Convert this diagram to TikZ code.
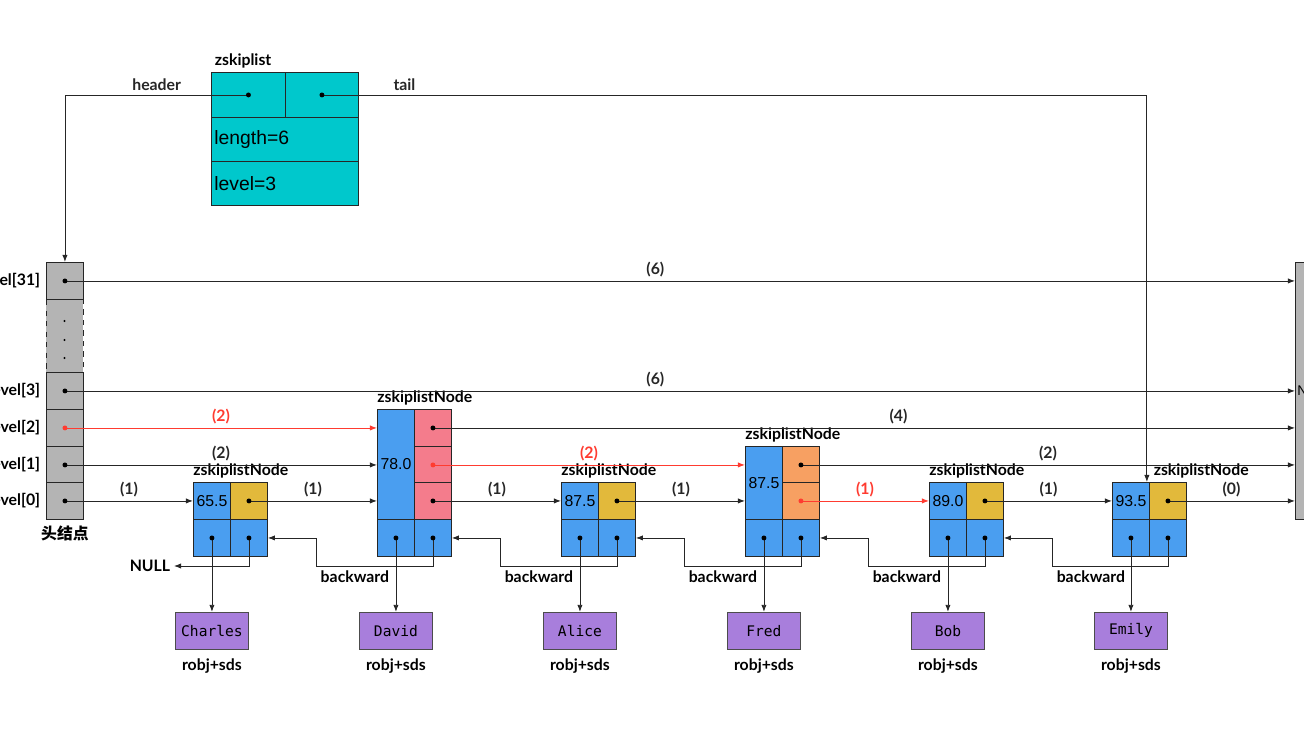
\documentclass[tikz,border=0pt]{standalone}
\usepackage{fontspec}
\setmainfont{Lato}
\setsansfont{Liberation Sans}
\setmonofont{DejaVu Sans Mono}
\newfontfamily\cjkfont{Noto Sans CJK SC}
\usetikzlibrary{arrows.meta, positioning}

\definecolor{zteal}{RGB}{0,200,204}
\definecolor{zblue}{RGB}{74,158,240}
\definecolor{zyellow}{RGB}{226,185,59}
\definecolor{zpink}{RGB}{244,124,140}
\definecolor{zorange}{RGB}{247,160,98}
\definecolor{zpurple}{RGB}{168,126,220}
\definecolor{zgray}{RGB}{180,180,180}
\definecolor{zred}{RGB}{255,59,48}

\newcommand{\pxu}{0.02cm}
\newcommand{\pdot}[2][black]{\fill[#1] (#2) circle (1.4pt);}

\tikzset{
  cell/.style={draw=black!85, line width=0.5pt, inner sep=0pt, anchor=north west,
    minimum width=37*\pxu, minimum height=37*\pxu, font=\sffamily\fontsize{9}{10}\selectfont},
  hcell/.style={cell, fill=zgray},
  scell/.style={cell, fill=zblue},
  objbox/.style={draw=black!70, line width=0.5pt, fill=zpurple, minimum width=73*\pxu,
    minimum height=37*\pxu, inner sep=0pt, font=\ttfamily\fontsize{8.3}{10}\selectfont},
  lbl/.style={font=\bfseries\fontsize{9}{10}\selectfont, inner sep=2pt},
  ptr/.style={-{Latex[length=4pt,width=3pt]}, line width=0.5pt, black!85},
  redptr/.style={ptr, zred},
}

\begin{document}
\begin{tikzpicture}[x=0.02cm, y=-0.02cm]
  \useasboundingbox (0,0) rectangle (1304,734);

  % zskiplist struct
  \node (zh) [cell, fill=zteal, minimum width=74*\pxu, minimum height=45*\pxu] at (211,72) {};
  \node (zt) [cell, fill=zteal, minimum width=73*\pxu, minimum height=45*\pxu] at (285,72) {};
  \node (zlen) [cell, fill=zteal, minimum height=44*\pxu, text width=2.82cm, inner xsep=0.06cm,
    align=left, font=\sffamily\fontsize{11}{12}\selectfont] at (211,117) {length=6};
  \node (zlvl) [cell, fill=zteal, minimum height=44*\pxu, text width=2.82cm, inner xsep=0.06cm,
    align=left, font=\sffamily\fontsize{11}{12}\selectfont] at (211,161) {level=3};
  \node (zname) [lbl, anchor=south west] at (zh.north west) {zskiplist};

  % header node
  \node (hdots) [hcell, dashed, minimum height=73*\pxu] at (46,299) {};
  \node (h31) [hcell] at (46,262) {};
  \node (h3) [hcell] at (46,372) {};
  \node (h2) [hcell] at (46,409) {};
  \node (h1) [hcell] at (46,446) {};
  \node (h0) [hcell] at (46,482) {};
  \fill (64.5,321) circle (0.7pt) (64.5,340) circle (0.7pt) (64.5,358) circle (0.7pt);
  \node (lv31) [lbl, left=0.04cm of h31] {level[31]};
  \node (lv3) [lbl, left=0.04cm of h3] {level[3]};
  \node (lv2) [lbl, left=0.04cm of h2] {level[2]};
  \node (lv1) [lbl, left=0.04cm of h1] {level[1]};
  \node (lv0) [lbl, left=0.04cm of h0] {level[0]};
  \node (hname) [below=0.05cm of h0, inner sep=2pt, font=\cjkfont\bfseries\fontsize{9}{10}\selectfont] {头结点};

  % tail column
  \node (nullcol) [hcell, minimum width=40*\pxu, minimum height=257*\pxu,
    font=\sffamily\fontsize{8}{10}\selectfont] at (1295,262) {NULL};

  % node 65.5
  \node (n1s) [scell] at (193,482) {65.5};
  \node (n1l0) [cell, fill=zyellow] at (230,482) {};
  \node (n1b) [scell] at (193,519) {};
  \node (n1k) [scell] at (230,519) {};
  \node (n1name) [lbl, anchor=south west, inner xsep=0pt] at (n1s.north west) {zskiplistNode};

  % node 78.0
  \node (n2s) [scell, minimum height=110*\pxu] at (377,409) {78.0};
  \node (n2l2) [cell, fill=zpink] at (414,409) {};
  \node (n2l1) [cell, fill=zpink] at (414,446) {};
  \node (n2l0) [cell, fill=zpink] at (414,482) {};
  \node (n2b) [scell] at (377,519) {};
  \node (n2k) [scell] at (414,519) {};
  \node (n2name) [lbl, anchor=south west, inner xsep=0pt] at (n2s.north west) {zskiplistNode};

  % node 87.5 (Alice)
  \node (n3s) [scell] at (561,482) {87.5};
  \node (n3l0) [cell, fill=zyellow] at (598,482) {};
  \node (n3b) [scell] at (561,519) {};
  \node (n3k) [scell] at (598,519) {};
  \node (n3name) [lbl, anchor=south west, inner xsep=0pt] at (n3s.north west) {zskiplistNode};

  % node 87.5 (Fred)
  \node (n4s) [scell, minimum height=73*\pxu] at (745,446) {87.5};
  \node (n4l1) [cell, fill=zorange] at (782,446) {};
  \node (n4l0) [cell, fill=zorange] at (782,482) {};
  \node (n4b) [scell] at (745,519) {};
  \node (n4k) [scell] at (782,519) {};
  \node (n4name) [lbl, anchor=south west, inner xsep=0pt] at (n4s.north west) {zskiplistNode};

  % node 89.0
  \node (n5s) [scell] at (929,482) {89.0};
  \node (n5l0) [cell, fill=zyellow] at (966,482) {};
  \node (n5b) [scell] at (929,519) {};
  \node (n5k) [scell] at (966,519) {};
  \node (n5name) [lbl, anchor=south west, inner xsep=0pt] at (n5s.north west) {zskiplistNode};

  % node 93.5
  \node (n6s) [scell] at (1112,482) {93.5};
  \node (n6l0) [cell, fill=zyellow] at (1149,482) {};
  \node (n6b) [scell] at (1112,519) {};
  \node (n6k) [scell] at (1149,519) {};
  \node (n6name) [lbl, anchor=south west, inner xsep=2pt] at (n6s.north east) {zskiplistNode};

  % objects
  \node (o1) [objbox, below=1.1cm of n1b] {Charles};
  \node (o2) [objbox, below=1.1cm of n2b] {David};
  \node (o3) [objbox, below=1.1cm of n3b] {Alice};
  \node (o4) [objbox, below=1.1cm of n4b] {Fred};
  \node (o5) [objbox, below=1.1cm of n5b] {Bob};
  \node (o6) [objbox, below=1.1cm of n6b] {Emily};
  \node (r1) [lbl, below=0.1cm of o1] {robj+sds};
  \node (r2) [lbl, below=0.1cm of o2] {robj+sds};
  \node (r3) [lbl, below=0.1cm of o3] {robj+sds};
  \node (r4) [lbl, below=0.1cm of o4] {robj+sds};
  \node (r5) [lbl, below=0.1cm of o5] {robj+sds};
  \node (r6) [lbl, below=0.1cm of o6] {robj+sds};

  % header and tail pointers
  \draw[ptr] (zh.center) -| (h31.north) node[lbl, above, pos=0.25] {header};
  \draw[ptr] (zt.center) -| ([xshift=-3*\pxu]n6s.north east) node[lbl, above, pos=0.05] {tail};
  \pdot{zh.center} \pdot{zt.center}

  % level pointers
  \draw[ptr] (h31.center) -- (h31 -| nullcol.west) node[lbl, above, pos=0.48] {(6)};
  \draw[ptr] (h3.center) -- (h3 -| nullcol.west) node[lbl, above, pos=0.48] {(6)};
  \draw[redptr] (h2.center) -- (h2 -| n2s.west) node[lbl, above, midway, zred] {(2)};
  \draw[ptr] (h1.center) -- (h1 -| n2s.west) node[lbl, above, midway] {(2)};
  \draw[ptr] (h0.center) -- (n1s.west) node[lbl, above, midway] {(1)};
  \draw[ptr] (n1l0.center) -- (n1l0 -| n2s.west) node[lbl, above, midway] {(1)};
  \draw[ptr] (n2l2.center) -- (n2l2 -| nullcol.west) node[lbl, above, pos=0.54] {(4)};
  \draw[redptr] (n2l1.center) -- (n2l1 -| n4s.west) node[lbl, above, midway, zred] {(2)};
  \draw[ptr] (n2l0.center) -- (n3s.west) node[lbl, above, midway] {(1)};
  \draw[ptr] (n3l0.center) -- (n3l0 -| n4s.west) node[lbl, above, midway] {(1)};
  \draw[ptr] (n4l1.center) -- (n4l1 -| nullcol.west) node[lbl, above, midway] {(2)};
  \draw[redptr] (n4l0.center) -- (n5s.west) node[lbl, above, midway, zred] {(1)};
  \draw[ptr] (n5l0.center) -- (n6s.west) node[lbl, above, midway] {(1)};
  \draw[ptr] (n6l0.center) -- (n6l0 -| nullcol.west) node[lbl, above, midway] {(0)};
  \pdot{h31.center} \pdot{h3.center} \pdot[zred]{h2.center} \pdot{h1.center} \pdot{h0.center}
  \pdot{n1l0.center} \pdot{n2l2.center} \pdot[zred]{n2l1.center} \pdot{n2l0.center}
  \pdot{n3l0.center} \pdot{n4l1.center} \pdot[zred]{n4l0.center} \pdot{n5l0.center} \pdot{n6l0.center}

  % backward pointers
  \node (nullbk) [lbl, anchor=east] at (174,566) {NULL};
  \draw[ptr] (n1k.center) |- (nullbk.east);
  \draw[ptr] (n2k.center) |- ([shift={(49,28.5)}]n1k.east) |- (n1k.east);
  \draw[ptr] (n3k.center) |- ([shift={(49,28.5)}]n2k.east) |- (n2k.east);
  \draw[ptr] (n4k.center) |- ([shift={(49,28.5)}]n3k.east) |- (n3k.east);
  \draw[ptr] (n5k.center) |- ([shift={(49,28.5)}]n4k.east) |- (n4k.east);
  \draw[ptr] (n6k.center) |- ([shift={(49,28.5)}]n5k.east) |- (n5k.east);
  \node (bk2) [lbl, anchor=north west] at ([shift={(49,28.5)}]n1k.east) {backward};
  \node (bk3) [lbl, anchor=north west] at ([shift={(49,28.5)}]n2k.east) {backward};
  \node (bk4) [lbl, anchor=north west] at ([shift={(49,28.5)}]n3k.east) {backward};
  \node (bk5) [lbl, anchor=north west] at ([shift={(49,28.5)}]n4k.east) {backward};
  \node (bk6) [lbl, anchor=north west] at ([shift={(49,28.5)}]n5k.east) {backward};

  % object pointers
  \draw[ptr] (n1b.center) -- (o1.north);
  \draw[ptr] (n2b.center) -- (o2.north);
  \draw[ptr] (n3b.center) -- (o3.north);
  \draw[ptr] (n4b.center) -- (o4.north);
  \draw[ptr] (n5b.center) -- (o5.north);
  \draw[ptr] (n6b.center) -- (o6.north);
  \pdot{n1b.center} \pdot{n2b.center} \pdot{n3b.center} \pdot{n4b.center} \pdot{n5b.center} \pdot{n6b.center}
  \pdot{n1k.center} \pdot{n2k.center} \pdot{n3k.center} \pdot{n4k.center} \pdot{n5k.center} \pdot{n6k.center}
\end{tikzpicture}
\end{document}
